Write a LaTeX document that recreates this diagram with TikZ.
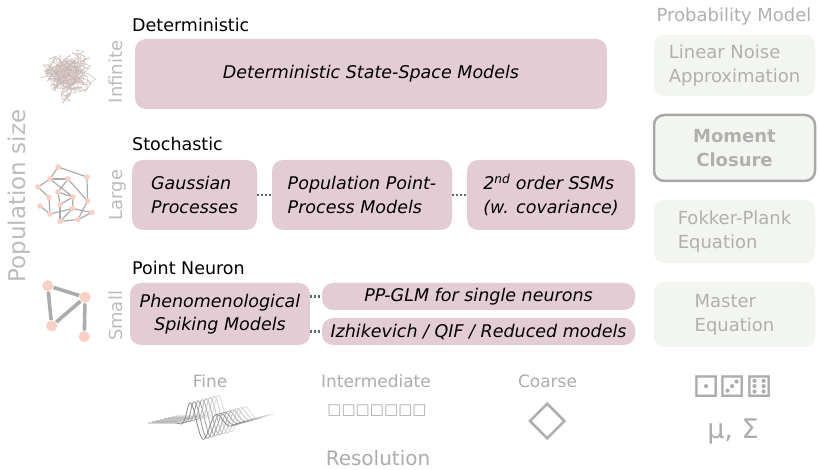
\documentclass[tikz,border=0pt]{standalone}
\usepackage{fontspec}
\setmainfont{DejaVu Sans}
\definecolor{modelpink}{RGB}{228,204,212}
\definecolor{probfill}{RGB}{243,245,240}
\definecolor{probtext}{RGB}{176,176,176}
\definecolor{probedge}{RGB}{168,168,168}
\definecolor{sidegray}{RGB}{188,188,188}
\definecolor{axisgray}{RGB}{172,172,172}
\definecolor{linkblue}{RGB}{84,110,124}
\definecolor{netpink}{RGB}{248,208,196}
\definecolor{netedge}{RGB}{172,172,172}
\begin{document}
\begin{tikzpicture}[x=1pt,y=-1pt,
  model/.style={fill=modelpink, rounded corners=11pt, inner sep=0pt,
    font=\fontsize{17.5}{23.5}\selectfont\itshape, text=black},
  prob/.style={fill=probfill, rounded corners=10pt, inner sep=0pt,
    minimum width=161pt, font=\fontsize{18}{24}\selectfont, text=probtext, align=left},
  link/.style={draw=linkblue, line width=2.2pt, dash pattern=on 2pt off 2pt},
  heading/.style={anchor=base west, inner sep=0pt, font=\fontsize{17.5}{21}\selectfont},
  sizelabel/.style={rotate=90, anchor=base, inner sep=0pt, text=sidegray,
    font=\fontsize{18}{21}\selectfont},
  reslabel/.style={anchor=base, inner sep=0pt, text=axisgray,
    font=\fontsize{17}{20}\selectfont},
  netnode/.style={circle, fill=netpink, inner sep=0pt},
  bignet/.style={draw=netedge, line width=1.2pt},
  smallnet/.style={draw=netedge, line width=3.6pt},
]
\useasboundingbox (0,0) rectangle (820,470);

% ---- vertical axis: population size ----
\node[rotate=90, anchor=base, inner sep=0pt, text=sidegray,
  font=\fontsize{23}{26}\selectfont] (popsize) at (25.5,196) {Population size};
\node[sizelabel] (infinite) at (122,72) {Infinite};
\node[sizelabel] (large) at (122,195) {Large};
\node[sizelabel] (small) at (122,316) {Small};

% ---- dense network icon (infinite population) ----
\pgfmathsetseed{4217}
\xdef\bx{0}\xdef\by{0}
\foreach \k in {1,...,640}{
  \pgfmathsetmacro\nx{0.95*\bx+7*rand}
  \pgfmathsetmacro\ny{0.95*\by+6*rand}
  \pgfmathsetmacro\ax{65+\bx}\pgfmathsetmacro\ay{73+\by}
  \pgfmathsetmacro\cx{65+\nx}\pgfmathsetmacro\cy{73+\ny}
  \draw[draw=netedge!85, line width=0.4pt] (\ax,\ay) -- (\cx,\cy);
  \fill[netpink] (\cx,\cy) circle (0.8pt);
  \xdef\bx{\nx}\xdef\by{\ny}
}

% ---- medium network icon (large population) ----
\foreach \n/\x/\y in {l1/58/167, l2/50/179, l3/68/179, l4/87/177, l5/38/187,
  l6/58/192, l7/73/197, l8/49/197.5, l9/60/204.5, l10/87.5/201, l11/40/206,
  l12/72.5/208.5, l13/50/214, l14/92/212.5, l15/60/221.5, l16/78/219.5}
  \coordinate (\n) at (\x,\y);
\foreach \a/\b in {l1/l4, l1/l2, l2/l3, l2/l5, l2/l7, l3/l6, l3/l10, l4/l10,
  l5/l8, l6/l7, l6/l9, l8/l13, l7/l12, l9/l7, l11/l13, l13/l12, l12/l14,
  l15/l12, l15/l16, l16/l10, l16/l14, l9/l15}
  \draw[bignet] (\a) -- (\b);
\foreach \n in {l1,l2,l3,l4,l5,l6,l7,l8,l9,l10,l11,l12,l13,l14,l15,l16}
  \node[netnode, minimum size=5.6pt] (\n-dot) at (\n) {};

% ---- small network icon (small population) ----
\node[netnode, minimum size=11pt] (s1) at (47.7,285.7) {};
\node[netnode, minimum size=11pt] (s2) at (85,297.3) {};
\node[netnode, minimum size=11pt] (s3) at (51.7,326) {};
\node[netnode, minimum size=11pt] (s4) at (84.3,336.7) {};
\draw[smallnet, shorten <=6pt, shorten >=6pt] (s1.center) -- (s2.center);
\draw[smallnet, shorten <=6pt, shorten >=6pt] (s1.center) -- (s3.center);
\draw[smallnet, shorten <=6pt, shorten >=6pt] (s3.center) -- (s2.center);
\draw[smallnet, shorten <=6pt, shorten >=6pt] (s2.center) -- (s4.center);

% ---- deterministic row ----
\node[heading] (dethead) at (132,31.5) {Deterministic};
\node[model, minimum width=472pt, minimum height=70pt] (det) at (371,74)
  {Deterministic State-Space Models};

% ---- stochastic row ----
\node[heading] (stohead) at (132,151) {Stochastic};
\node[model, minimum width=125pt, minimum height=70pt, align=left] (gp) at (194.5,195)
  {Gaussian\\Processes};
\node[model, minimum width=180pt, minimum height=70pt, align=left] (ppp) at (362,195)
  {Population Point-\\Process Models};
\node[model, minimum width=168pt, minimum height=70pt, align=left] (sec) at (551,195)
  {2\textsuperscript{nd} order SSMs\\(w. covariance)};
\draw[link] (gp.east) -- (ppp.west);
\draw[link] (ppp.east) -- (sec.west);

% ---- point neuron row ----
\node[heading] (pnhead) at (132,274.5) {Point Neuron};
\node[model, minimum width=180pt, minimum height=62pt, align=center] (phen) at (220,314)
  {Phenomenological\\Spiking Models};
\node[model, minimum width=313pt, minimum height=27pt] (glm) at (478.5,296.5)
  {PP-GLM for single neurons};
\node[model, minimum width=313pt, minimum height=27pt] (izh) at (478.5,331.5)
  {Izhikevich / QIF / Reduced models};
\draw[link] (phen.east |- glm.west) -- (glm.west);
\draw[link] (phen.east |- izh.west) -- (izh.west);

% ---- probability model column ----
\node[anchor=base, inner sep=0pt, text=probtext, font=\fontsize{18}{21}\selectfont]
  (probhead) at (734,21.5) {Probability Model};
\node[prob, minimum height=61pt] (lna) at (734.5,65.5) {Linear Noise\\Approximation};
\node[prob, minimum height=66pt, draw=probedge, line width=2.5pt, align=center,
  font=\fontsize{18}{24}\selectfont\bfseries] (mc) at (734.5,148) {Moment\\Closure};
\node[prob, minimum height=63pt] (fp) at (734.5,231.5) {Fokker-Plank\\Equation};
\node[prob, minimum height=65pt] (me) at (734.5,314.5) {Master\\Equation};

% ---- resolution axis ----
\node[reslabel] (fine) at (210,388) {Fine};
\node[reslabel] (inter) at (376,388) {Intermediate};
\node[reslabel] (coarse) at (547.5,388) {Coarse};
\node[anchor=base, inner sep=0pt, text=axisgray, font=\fontsize{20}{24}\selectfont]
  (resol) at (378,465) {Resolution};

% stacked wavelets (fine resolution): sharp onset, slow decay
\foreach \i in {7,...,0}{
  \pgfmathtruncatemacro\shade{45-4.5*\i}
  \draw[black!\shade, line width=0.85pt] plot[domain=-42:55, samples=160, smooth]
    ({190+4*\i+\x},
     {423-1.1*\i-20*exp(-(max(-\x,0)/6)^2-(max(\x,0)/30)^2)*cos(12.86*\x)});
}
% grid of cells (intermediate resolution)
\node[inner sep=0pt, text=axisgray, font=\fontsize{15}{17}\selectfont] (cells) at (377,411)
  {□□□□□□□};
% single state (coarse resolution)
\node[inner sep=0pt, text=axisgray, font=\fontsize{50}{54}\selectfont] (diamond) at (548,422)
  {◇};
% dice and moments
\node[inner sep=0pt, text=axisgray, font=\fontsize{30}{32}\selectfont] (dice) at (733,387)
  {⚀⚂⚅};
\node[inner sep=0pt, text=axisgray, font=\fontsize{27}{30}\selectfont] (moments) at (733,431)
  {μ, Σ};
\end{tikzpicture}
\end{document}
